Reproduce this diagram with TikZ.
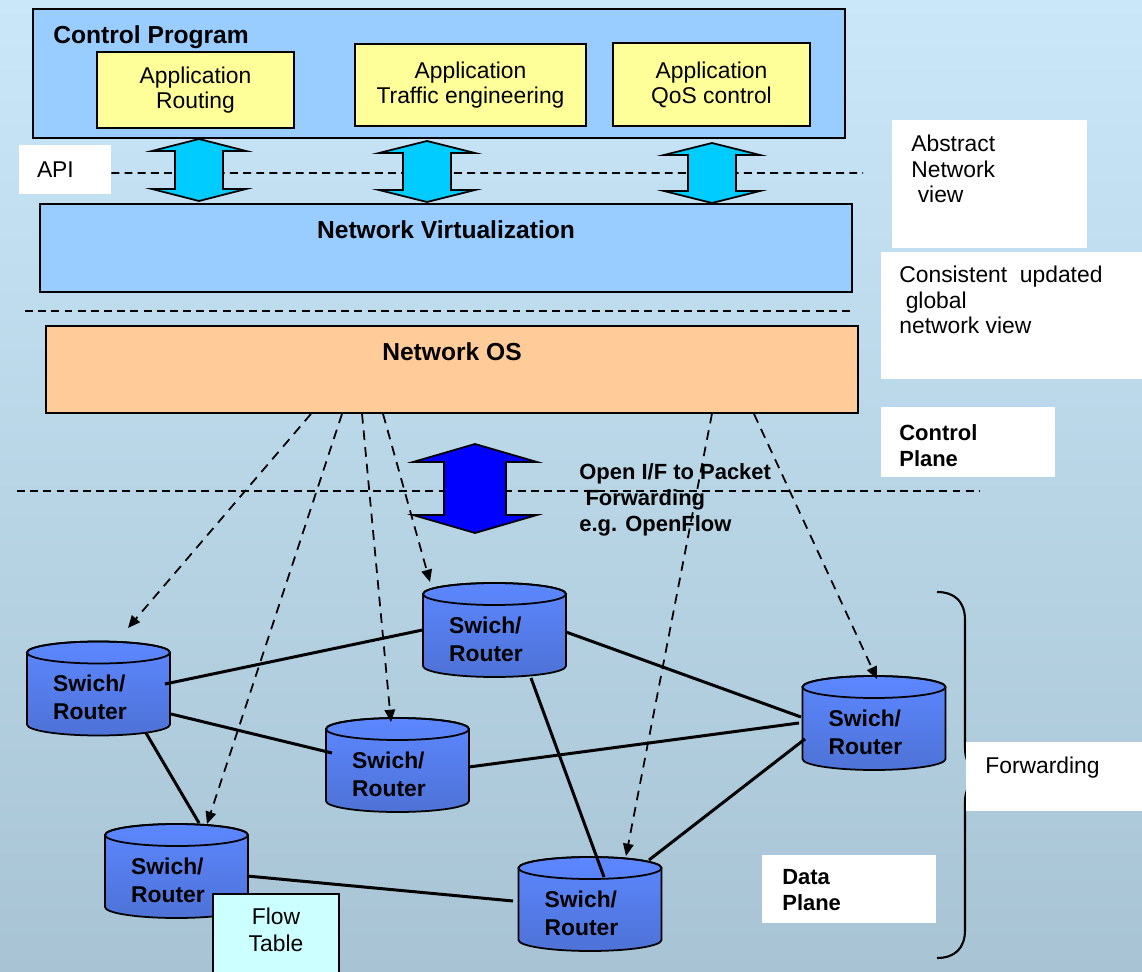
\documentclass[tikz,border=0pt]{standalone}
\usepackage{fontspec}
\setmainfont{Liberation Sans}
\usetikzlibrary{arrows.meta}

\definecolor{bgtop}{RGB}{201,231,249}
\definecolor{bgbottom}{RGB}{168,196,212}
\definecolor{panelblue}{RGB}{153,204,255}
\definecolor{appyellow}{RGB}{255,255,153}
\definecolor{osorange}{RGB}{255,204,153}
\definecolor{apicyan}{RGB}{0,204,255}
\definecolor{flowcyan}{RGB}{204,255,255}
\definecolor{swtop}{RGB}{92,135,255}
\definecolor{swbottom}{RGB}{78,114,214}

\newcommand{\regfont}{\fontsize{13}{14.3}\selectfont}
\newcommand{\headfont}{\fontsize{14}{16}\selectfont\bfseries}
\newcommand{\labfont}{\fontsize{12.5}{15}\selectfont\bfseries}

% block arrow up and down: x, top y, bottom y, half head, half shaft, head length, colour
\newcommand{\updown}[7]{%
  \filldraw[fill=#7, line width=1pt, line join=miter]
    (#1,#2) -- ({#1+#4},{#2+#6}) -- ({#1+#5},{#2+#6}) -- ({#1+#5},{#3-#6})
    -- ({#1+#4},{#3-#6}) -- (#1,#3) -- ({#1-#4},{#3-#6}) -- ({#1-#5},{#3-#6})
    -- ({#1-#5},{#2+#6}) -- ({#1-#4},{#2+#6}) -- cycle;}

% switch drum: name, x, y
\newcommand{\switchdb}[3]{%
  \shadedraw[top color=swtop, bottom color=swbottom, line width=1pt]
    ({#2-71.5},{#3-36}) -- ({#2-71.5},{#3+36})
    arc[start angle=180, end angle=360, x radius=1.43cm, y radius=0.22cm]
    -- ({#2+71.5},{#3-36})
    arc[start angle=0, end angle=180, x radius=1.43cm, y radius=0.22cm] -- cycle;
  \draw[line width=1pt] (#2,{#3-36}) ellipse [x radius=1.43cm, y radius=0.22cm];
  \node[swbox] (#1) at (#2,#3) {};
  \node[swtext] (#1t) at ([xshift=-0.17cm, yshift=-0.18cm]#1.center) {Swich/\\Router};}

\tikzset{
  panel/.style={draw, line width=1pt, fill=panelblue, minimum width=16.24cm, inner sep=0pt},
  appbox/.style={draw, line width=1pt, fill=appyellow, align=center, font=\regfont, inner sep=0pt},
  notebox/.style={fill=white, inner sep=0pt},
  notetext/.style={align=left, inner sep=0pt, anchor=north west},
  swbox/.style={minimum width=2.86cm, minimum height=1.88cm, inner sep=0pt},
  swtext/.style={align=left, inner sep=0pt, font=\fontsize{13}{15.9}\selectfont\bfseries},
  wire/.style={line width=1.7pt},
  ctrl/.style={line width=1pt, dash pattern=on 5.5pt off 4pt,
    -{Triangle[length=7pt,width=6pt]}},
  divider/.style={line width=1pt, dash pattern=on 4.5pt off 3pt}
}

\begin{document}
\begin{tikzpicture}[x=0.02cm, y=-0.02cm]
\shade[top color=bgtop, bottom color=bgbottom] (0,0) rectangle (1142,972);
\useasboundingbox (0,0) rectangle (1142,972);

% control program and applications
\node[panel, minimum height=2.58cm] (cprog) at (439,73.5) {};
\node[font=\headfont, anchor=base west, inner sep=0pt] (cptitle) at (53,44) {Control Program};
\node[appbox, minimum width=3.94cm, minimum height=1.52cm] (route) at (195.5,90) {Application\\Routing};
\node[appbox, minimum width=4.62cm, minimum height=1.64cm] (te) at (470.5,85) {Application\\Traffic engineering};
\node[appbox, minimum width=3.94cm, minimum height=1.66cm] (qos) at (711.5,84.5) {Application\\QoS control};

% API
\node[notebox, minimum width=1.84cm, minimum height=0.98cm, text width=1.12cm,
  align=left, font=\regfont] (api) at (65,169.5) {API};
\coordinate (apiend) at (863,173);
\draw[divider] ([yshift=-0.07cm]api.east) -- (apiend);
\updown{199}{139}{201}{47}{24}{12}{apicyan}
\updown{427}{141}{202}{48}{24}{12}{apicyan}
\updown{712}{143}{203}{48}{24}{12}{apicyan}

\node[notebox, minimum width=3.9cm, minimum height=2.56cm] (absbox) at (989.5,184) {};
\node[notetext, font=\regfont] (abstxt) at (911,135) {Abstract\\Network\\\hspace*{0.28em}view};

% virtualization and OS
\node[panel, minimum height=1.76cm] (netvirt) at (446,248) {};
\node[font=\headfont, anchor=base, inner sep=0pt] (nvtitle) at (446,239) {Network Virtualization};
\draw[divider] (25,311) -- (854,311);
\node[notebox, minimum width=5.22cm, minimum height=2.54cm] (consbox) at (1011.5,315.5) {};
\node[notetext, font=\regfont] (constxt) at (899,266) {Consistent\ \ updated\\\hspace*{0.28em}global\\network view};

\node[panel, fill=osorange, minimum height=1.74cm] (netos) at (452,369.5) {};
\node[font=\headfont, anchor=base, inner sep=0pt] (ostitle) at (452,361) {Network OS};

\node[notebox, minimum width=3.48cm, minimum height=1.4cm] (cpbox) at (968,442) {};
\node[notetext, font=\labfont] (cptxt) at (899,424) {Control\\Plane};

\draw[divider] (17,491) -- (980,491);
\node[notetext, font=\labfont] (openif) at (579,463) {Open I/F to Packet\\\hspace*{0.28em}Forwarding\\e.g. OpenFlow};
\updown{475}{444}{533}{62}{31}{18}{blue}

% switches
\switchdb{sw1}{98.5}{688.5}
\switchdb{sw2}{494.5}{630}
\switchdb{sw3}{397.5}{765}
\switchdb{sw4}{176.5}{871}
\switchdb{sw5}{590}{904}
\switchdb{sw6}{874}{723}

\draw[wire] ([shift={(66.5,-4.5)}]sw1.center) -- ([shift={(-72,0)}]sw2.center);
\draw[wire] ([shift={(72.5,25.5)}]sw1.center) -- ([shift={(-65.5,-12)}]sw3.center);
\draw[wire] ([shift={(47.5,44.5)}]sw1.center) -- ([shift={(22.5,-48)}]sw4.center);
\draw[wire] ([shift={(70.5,5)}]sw4.center) -- ([shift={(-77,-3)}]sw5.center);
\draw[wire] ([shift={(71.5,2)}]sw3.center) -- ([shift={(-75,0)}]sw6.center);
\draw[wire] ([shift={(71.5,2)}]sw2.center) -- ([shift={(-73,-6)}]sw6.center);
\draw[wire] ([shift={(36.5,48)}]sw2.center) -- ([shift={(14,-27)}]sw5.center);
\draw[wire] ([shift={(-69,16)}]sw6.center) -- ([shift={(59,-44)}]sw5.center);

% control to switches
\draw[ctrl] ([xshift=-2.82cm]netos.south) -- ([shift={(29.5,-60.5)}]sw1.center);
\draw[ctrl] ([xshift=-2.2cm]netos.south) -- ([shift={(30.5,-47)}]sw4.center);
\draw[ctrl] ([xshift=-1.8cm]netos.south) -- ([shift={(-6.5,-43)}]sw3.center);
\draw[ctrl] ([xshift=-1.38cm]netos.south) -- ([shift={(-64.5,-48)}]sw2.center);
\draw[ctrl] ([xshift=5.2cm]netos.south) -- ([shift={(36,-48)}]sw5.center);
\draw[ctrl] ([xshift=6.04cm]netos.south) -- ([shift={(3,-44)}]sw6.center);

\node[draw, line width=1pt, fill=flowcyan, minimum width=2.52cm, minimum height=1.72cm,
  inner sep=0pt] (flowbox) at (276,937) {};
\node[font=\fontsize{13}{15.3}\selectfont, align=center, anchor=north, inner sep=0pt] (flowtxt) at (276,908) {Flow\\Table};

% forwarding brace
\draw[line width=1.2pt] (937,592) .. controls (955,592) and (965,602) .. (965,620) -- (965,748)
  .. controls (965,765) and (975,775) .. (990,775) .. controls (975,775) and (965,785) .. (965,802)
  -- (965,930) .. controls (965,948) and (955,958) .. (937,958);
\node[notebox, minimum width=3.52cm, minimum height=1.38cm] (fwdbox) at (1054,776.5) {};
\node[font=\regfont, anchor=base west, inner sep=0pt] (fwdtxt) at (985,773) {Forwarding};

\node[notebox, minimum width=3.48cm, minimum height=1.36cm] (dpbox) at (849,889) {};
\node[notetext, font=\labfont] (dptxt) at (782,869) {Data\\Plane};
\end{tikzpicture}
\end{document}
